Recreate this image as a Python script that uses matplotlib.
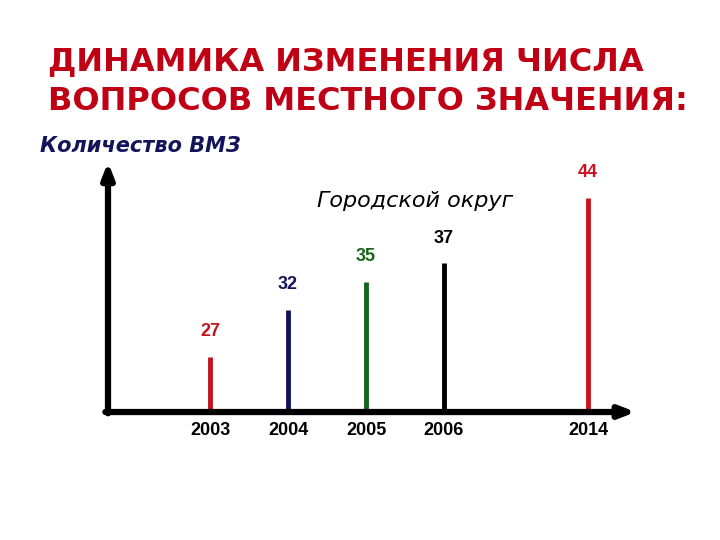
import matplotlib.pyplot as plt
import numpy as np

plt.rcParams['font.family'] = ['Liberation Sans', 'DejaVu Sans']

years = ["2003", "2004", "2005", "2006", "2014"]
counts = [27, 32, 35, 37, 44]
bar_colors = ["#c0141e", "#14145a", "#16641a", "#000000", "#c8141e"]
title_lines = ["ДИНАМИКА ИЗМЕНЕНИЯ ЧИСЛА", "ВОПРОСОВ МЕСТНОГО ЗНАЧЕНИЯ:"]

# 2014 stands apart from the consecutive years
x_pos = np.arange(len(years), dtype=float)
x_pos[-1] += 0.85

fig = plt.figure(figsize=(7.2, 5.4), dpi=100)
fig.patch.set_facecolor("white")

fig.text(0.066, 0.870, title_lines[0], fontsize=23, fontweight="bold", color="#c00014",
         va="baseline", family="DejaVu Sans")
fig.text(0.066, 0.796, title_lines[1], fontsize=23, fontweight="bold", color="#c00014",
         va="baseline", family="DejaVu Sans")

ax = fig.add_axes([0.15, 0.237, 0.733, 0.463])
ax.set_xlim(-1.31, 5.46)
ax.set_ylim(21.08, 47.85)
ax.axis("off")

ax.vlines(x_pos, 21.08, counts, colors=bar_colors, linewidth=3.5)
for x, v, c in zip(x_pos, counts, bar_colors):
    ax.annotate(str(v), (x, v), xytext=(0, 12), textcoords="offset points",
                ha="center", va="bottom", fontsize=13, fontweight="bold", color=c)
for x, y in zip(x_pos, years):
    ax.annotate(y, (x, 21.08), xytext=(0, -7), textcoords="offset points",
                ha="center", va="top", fontsize=13, fontweight="bold", color="black")

# axes drawn as thick arrows
ax.annotate("", xy=(0, 1.0), xytext=(0, -0.005), xycoords="axes fraction",
            arrowprops=dict(arrowstyle="-|>,head_length=0.9,head_width=0.35", lw=4.5, color="black",
                            shrinkA=0, shrinkB=0))
ax.annotate("", xy=(1.0, 0), xytext=(-0.005, 0), xycoords="axes fraction",
            arrowprops=dict(arrowstyle="-|>,head_length=0.9,head_width=0.35", lw=4.5, color="black",
                            shrinkA=0, shrinkB=0))

fig.text(0.055, 0.73, "Количество ВМЗ", fontsize=15, fontweight="bold", fontstyle="italic",
         color="#14145a", va="center", family="DejaVu Sans")
fig.text(0.577, 0.627, "Городской округ", fontsize=16, fontstyle="italic",
         color="black", va="center", ha="center", family="DejaVu Sans")

fig.savefig("out.png", dpi=100)
